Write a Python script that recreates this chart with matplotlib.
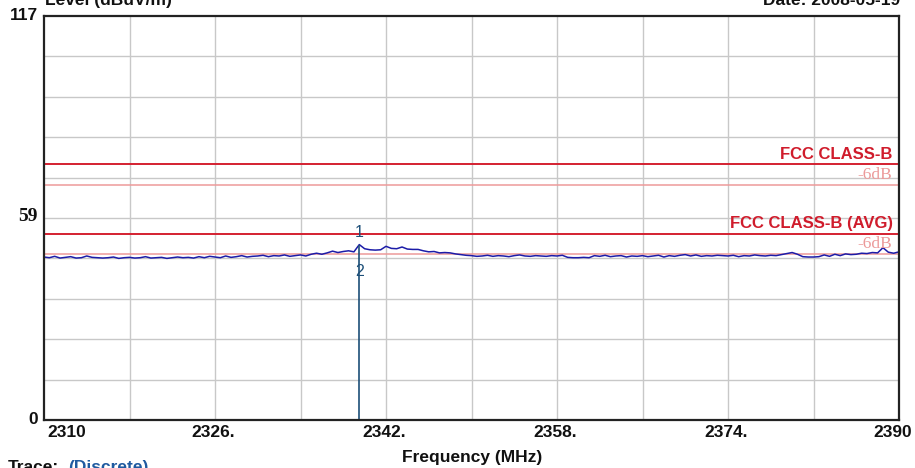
import numpy as np
import matplotlib
matplotlib.use("Agg")
import matplotlib.pyplot as plt

# ---- data ----
freq_start, freq_stop, freq_step = 2310, 2390, 0.5
level = [
    47.2, 47.0, 47.4, 46.9, 47.1, 47.3, 46.9, 47.0, 47.5, 47.1, 47.0, 46.9, 47.0, 47.2, 46.8, 47.0,
    47.1, 46.9, 47.0, 47.3, 46.9, 47.0, 47.1, 46.8, 47.0, 47.2, 47.0, 47.1, 46.9, 47.3, 47.0, 47.4,
    47.2, 47.0, 47.5, 47.1, 47.3, 47.6, 47.2, 47.4, 47.5, 47.7, 47.3, 47.6, 47.5, 47.8, 47.4, 47.6,
    47.8, 47.5, 48.0, 48.3, 48.0, 48.4, 48.9, 48.5, 48.8, 49.0, 48.7, 50.8, 49.6, 49.3, 49.2, 49.3,
    50.3, 49.7, 49.6, 50.1, 49.5, 49.4, 49.4, 49.0, 48.7, 48.8, 48.4, 48.5, 48.4, 48.1, 47.9, 47.7,
    47.6, 47.4, 47.5, 47.7, 47.4, 47.6, 47.5, 47.3, 47.6, 47.8, 47.5, 47.4, 47.6, 47.5, 47.4, 47.6,
    47.5, 47.7, 47.1, 47.0, 47.0, 47.1, 47.0, 47.6, 47.4, 47.7, 47.3, 47.5, 47.6, 47.2, 47.5, 47.4,
    47.6, 47.3, 47.5, 47.7, 47.2, 47.6, 47.4, 47.7, 47.9, 47.5, 47.8, 47.4, 47.6, 47.5, 47.7, 47.6,
    47.5, 47.7, 47.3, 47.6, 47.5, 47.8, 47.6, 47.5, 47.7, 47.6, 47.9, 48.2, 48.5, 48.0, 47.3, 47.2,
    47.2, 47.3, 47.8, 47.4, 48.0, 47.6, 48.1, 47.9, 48.0, 48.3, 48.2, 48.5, 48.4, 49.9, 48.6, 48.3,
    48.7,
]
freq = np.arange(freq_start, freq_stop + freq_step / 2, freq_step)

limit_names = ["FCC CLASS-B", "-6dB", "FCC CLASS-B (AVG)", "-6dB"]
limit_values = [74, 68, 54, 48]
limit_is_margin = [False, True, False, True]

marker_freq = 2339.5
marker_level = 50.8
marker_labels = ["1", "2"]

x_tick_values = [2310, 2326, 2342, 2358, 2374, 2390]
x_tick_labels = ["2310", "2326.", "2342.", "2358.", "2374.", "2390"]
y_min, y_max = 0, 117
y_tick_values = [0, 59, 117]

# ---- figure ----
fig = plt.figure(figsize=(9.15, 4.68), dpi=100)
ax = fig.add_axes([44 / 915, 48 / 468, 855 / 915, 404 / 468])
ax.set_xlim(freq_start, freq_stop)
ax.set_ylim(y_min, y_max)

# grid
for gx in np.linspace(freq_start, freq_stop, 11)[1:-1]:
    ax.axvline(gx, color="#c8c8c8", lw=1.0, zorder=0)
for gy in np.linspace(y_min, y_max, 11)[1:-1]:
    ax.axhline(gy, color="#c8c8c8", lw=1.0, zorder=0)

# limit lines
for name, val, margin in zip(limit_names, limit_values, limit_is_margin):
    if margin:
        ax.axhline(val, color="#ee9a9a", lw=1.1, zorder=1)
        ax.text(2389.4, val + 0.6, name, color="#ec9a9a", fontsize=12.5,
                family="Liberation Serif", ha="right", va="bottom", zorder=3)
    else:
        ax.axhline(val, color="#d42030", lw=1.4, zorder=1)
        ax.text(2389.4, val + 0.8, name, color="#d01c2c", fontsize=12,
                family="Liberation Sans", weight="bold", ha="right", va="bottom", zorder=3)

# trace
ax.plot(freq, level, color="#1c1ca8", lw=1.1, zorder=2)

# marker
ax.vlines(marker_freq, y_min, marker_level, color="#1d4f78", lw=1.2, zorder=2)
ax.text(marker_freq, marker_level + 1.2, marker_labels[0], color="#1d4f78", fontsize=11.5,
        family="Liberation Sans", ha="center", va="bottom", zorder=3)
ax.text(marker_freq, marker_level - 5.5, marker_labels[1], color="#1d4f78", fontsize=11.5,
        family="Liberation Sans", ha="center", va="top", zorder=3)

# spines
for s in ax.spines.values():
    s.set_color("#222222")
    s.set_linewidth(1.6)
ax.set_xticks([])
ax.set_yticks([])

# x tick labels
for v, lab in zip(x_tick_values, x_tick_labels):
    if v == freq_start:
        ax.text(v + 0.3, -1.5, lab, ha="left", va="top", fontsize=12.5, weight="bold",
                family="Liberation Sans", color="#111111")
    elif v == freq_stop:
        ax.text(v - 0.6, -1.5, lab, ha="center", va="top", fontsize=12.5, weight="bold",
                family="Liberation Sans", color="#111111")
    else:
        ax.text(v - 0.2, -1.5, lab, ha="center", va="top", fontsize=12.5, weight="bold",
                family="Liberation Sans", color="#111111")

# y tick labels
for v in y_tick_values:
    fam = "Liberation Serif" if v == 59 else "Liberation Sans"
    size = 14 if v == 59 else 12.5
    ax.text(freq_start - 0.6, v, str(v), ha="right", va="center", fontsize=size, weight="bold",
            family=fam, color="#111111")

fig.text(472 / 915, 1 - 462 / 468, "Frequency (MHz)", ha="center", va="baseline",
         fontsize=12.5, weight="bold", family="Liberation Sans", color="#111111")
fig.text(45 / 915, 1 - 5 / 468, "Level (dBuV/m)", ha="left", va="baseline",
         fontsize=12.5, weight="bold", family="Liberation Sans", color="#111111")
fig.text(900 / 915, 1 - 5 / 468, "Date: 2008-05-19", ha="right", va="baseline",
         fontsize=12.5, weight="bold", family="Liberation Sans", color="#111111")
fig.text(8 / 915, -4 / 468, "Trace:", ha="left", va="baseline",
         fontsize=12.5, weight="bold", family="Liberation Sans", color="#111111")
fig.text(68 / 915, -4 / 468, "(Discrete)", ha="left", va="baseline",
         fontsize=12.5, weight="bold", family="Liberation Sans", color="#1f5aa0")

fig.savefig("out.png", dpi=100, facecolor="white")
